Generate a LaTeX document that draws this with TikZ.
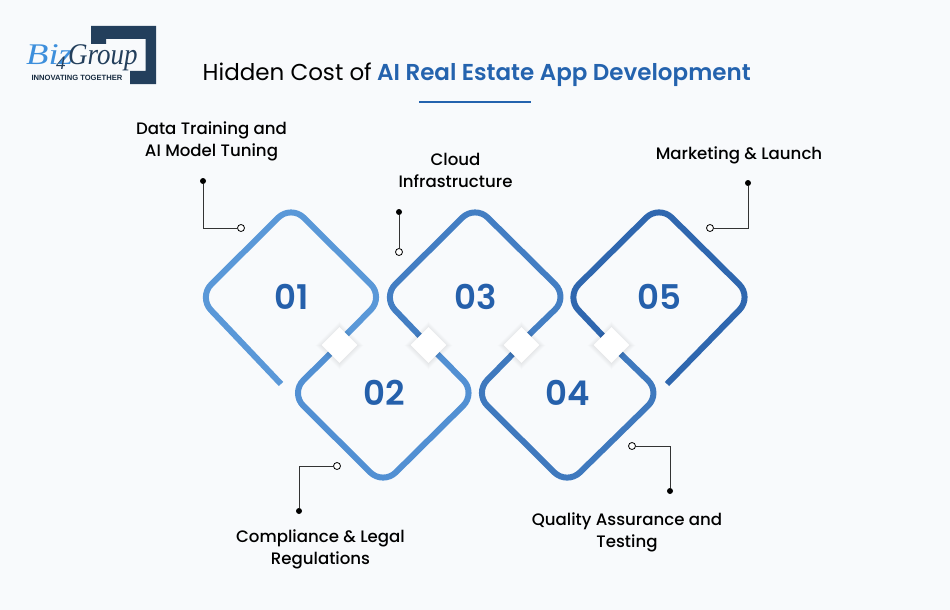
\documentclass[tikz,border=0pt]{standalone}
\usepackage{graphicx}
\usepackage{fontspec}
\setmainfont{Poppins}
\newfontfamily\medfont{Poppins Medium}
\newfontfamily\semifont{Poppins SemiBold}
\newfontfamily\logofont{Liberation Serif}
\newfontfamily\logosans{Liberation Sans}
\usepackage{xcolor}
\usetikzlibrary{shapes.geometric, positioning}
\definecolor{pagebg}{HTML}{F8FAFC}
\definecolor{titleblue}{HTML}{2463AE}
\definecolor{numblue}{HTML}{2560AB}
\definecolor{navy}{HTML}{233F5C}
\definecolor{skyblue}{HTML}{3D8FDC}
\definecolor{ribA}{HTML}{5A98D8}
\definecolor{ribB}{HTML}{5290D3}
\definecolor{ribC}{HTML}{437EC3}
\definecolor{ribD}{HTML}{3F79BE}
\definecolor{ribE}{HTML}{2F67AF}
\tikzset{
  ribbon/.style={line width=6pt, rounded corners=18pt},
  num/.style={font=\semifont\fontsize{34}{36}\selectfont, text=numblue, inner sep=0pt},
  lbl/.style={font=\medfont\fontsize{16.6}{22}\selectfont, text=black, align=center, inner sep=0pt},
  logotext/.style={anchor=base west, inner sep=0pt, font=\logofont\itshape\fontsize{30}{30}\selectfont},
  dotfull/.style={circle, fill=black, minimum size=6pt, inner sep=0pt},
  dotopen/.style={circle, draw=black, fill=white, line width=.8pt, minimum size=7pt, inner sep=0pt},
  leader/.style={draw=black!80, line width=.9pt},
  gap/.style={diamond, fill=white, minimum width=36pt, minimum height=36pt, inner sep=0pt},
  gapshade/.style={diamond, fill=black, opacity=.012, inner sep=0pt},
}

\begin{document}
\begin{tikzpicture}[x=1pt, y=-1pt]
    \useasboundingbox (0,0) rectangle (950,610);
    \fill[pagebg] (0,0) rectangle (950,610);

    % logo
    \fill[navy] (91,26) -- (156,26) -- (156,84) -- (130,84) -- (130,71) -- (145.5,71) -- (145.5,39) -- (106,39) -- (106,44) -- (91,44) -- cycle;
    \node[logotext, text=skyblue] (biz) at (26,65) {\scalebox{1.22}[1]{Biz}};
    \node[logotext, text=navy] (group) at (68,65) {\scalebox{.9}[1]{Group}};
    \node[logotext, text=navy, font=\logofont\itshape\fontsize{19}{19}\selectfont] (four) at (56,70) {4};
    \node[inner sep=0pt, font=\logosans\bfseries\fontsize{7.6}{8}\selectfont, text=navy!70!black] (slogan) at (77,78) {INNOVATING TOGETHER};

    % title
    \node[anchor=base east, inner sep=0pt, font=\fontsize{23}{26}\selectfont] (titleA) at (372,81) {Hidden Cost of};
    \node[anchor=base west, inner sep=0pt, font=\semifont\fontsize{23}{26}\selectfont, text=titleblue] (titleB) at (377,81) {AI Real Estate App Development};
    \coordinate (ruleL) at (419,102);
    \coordinate (ruleR) at (531,102);
    \draw[titleblue, line width=2pt] (ruleL) -- (ruleR);

    % ribbon
    \draw[ribbon, ribA] (281,384) -- (198.5,297) -- (291,205) -- (383.5,297) -- (339,342);
    \draw[ribbon, ribB] (339,345) -- (290.5,393) -- (383,485) -- (476,393) -- (428.5,345);
    \draw[ribbon, ribC] (428.5,345) -- (382.5,297) -- (475,205) -- (568,297) -- (521.5,342);
    \draw[ribbon, ribD] (521.5,345) -- (474.5,393) -- (567,485) -- (661,393) -- (611.5,345);
    \draw[ribbon, ribE] (611.5,345) -- (566,297) -- (659,205) -- (752,297) -- (667,384);

    % crossings
    \foreach \cx/\name in {339.5/a, 428.5/b, 521.5/c, 611.5/d} {
      \foreach \sz in {48,46,...,36}
        \node[gapshade, minimum width=\sz pt, minimum height=\sz pt] at (\cx,345.5) {};
      \node[gap] (gap\name) at (\cx,345) {};
    }

    % numbers
    \node[num] (n1) at (292,297) {01};
    \node[num] (n2) at (384,393) {02};
    \node[num] (n3) at (476,297) {03};
    \node[num] (n4) at (568,393) {04};
    \node[num] (n5) at (659.5,297) {05};

    % labels
    \node[lbl] (l1) at (211.5,141) {Data Training and\\AI Model Tuning};
    \node[lbl] (l2) at (320.5,549) {Compliance \& Legal\\Regulations};
    \node[lbl] (l3) at (455.5,170.5) {Cloud\\Infrastructure};
    \node[lbl] (l4) at (627,532) {Quality Assurance and\\Testing};
    \node[lbl] (l5) at (739,155) {Marketing \& Launch};

    % leaders
    \node[dotfull] (f1) at (203,181) {};
    \node[dotopen] (o1) at (241,228) {};
    \node[dotfull] (f2) at (299,511) {};
    \node[dotopen] (o2) at (337,466) {};
    \node[dotfull] (f3) at (399,212) {};
    \node[dotopen] (o3) at (399,252) {};
    \node[dotfull] (f4) at (670,491) {};
    \node[dotopen] (o4) at (632,446) {};
    \node[dotfull] (f5) at (748,183) {};
    \node[dotopen] (o5) at (710,228) {};
    \draw[leader] (f1) |- (o1);
    \draw[leader] (f2) |- (o2);
    \draw[leader] (f3) -- (o3);
    \draw[leader] (f4) |- (o4);
    \draw[leader] (f5) |- (o5);
\end{tikzpicture}
\end{document}
